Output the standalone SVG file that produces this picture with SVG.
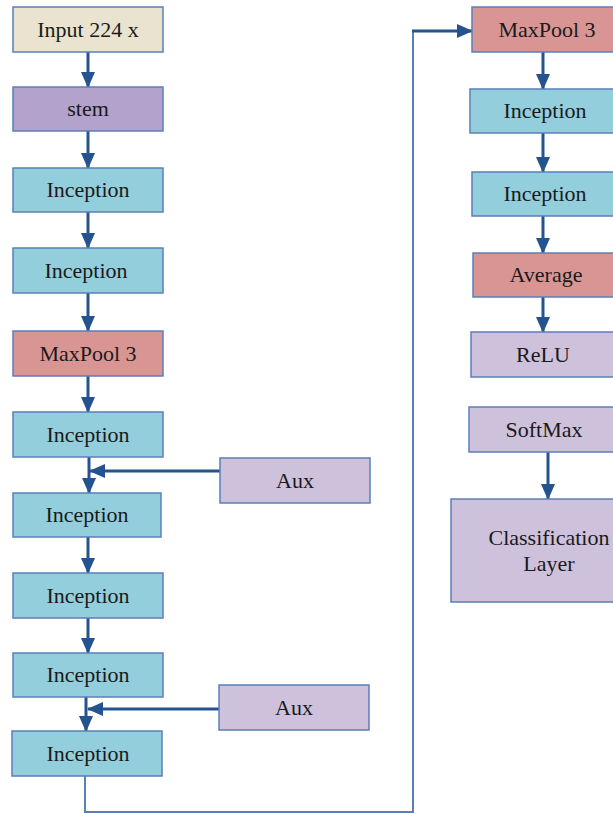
<svg xmlns="http://www.w3.org/2000/svg" width="613" height="814" viewBox="0 0 613 814">
<style>
.box{stroke:#5b7fb8;stroke-width:1.5}
.inp{fill:#e9e3cf}
.stem{fill:#b3a2cb}
.inc{fill:#93cedd}
.pool{fill:#d99594}
.lav{fill:#cdc1dc}
text{font-family:"Liberation Serif","Times New Roman",serif;font-size:22px;fill:#1a1a1a;text-anchor:middle}
.c{stroke:#24538f;stroke-width:3;fill:none}
.thin{stroke:#5b7fb8;stroke-width:2;fill:none}
</style>
<defs>
<marker id="ah" markerUnits="userSpaceOnUse" markerWidth="16" markerHeight="16" viewBox="0 0 16 16" refX="15" refY="8" orient="auto">
<path d="M0,1 L16,8 L0,15 Z" fill="#24538f"/>
</marker>
</defs>
<g id="connectors">
<line class="c" x1="88" y1="51" x2="88" y2="87" marker-end="url(#ah)"/>
<line class="c" x1="88" y1="131" x2="88" y2="168" marker-end="url(#ah)"/>
<line class="c" x1="88" y1="212" x2="88" y2="248" marker-end="url(#ah)"/>
<line class="c" x1="88" y1="293" x2="88" y2="331" marker-end="url(#ah)"/>
<line class="c" x1="88" y1="376" x2="88" y2="412" marker-end="url(#ah)"/>
<line class="c" x1="89" y1="457" x2="89" y2="493" marker-end="url(#ah)"/>
<line class="c" x1="220" y1="471" x2="90" y2="471" marker-end="url(#ah)"/>
<line class="c" x1="88" y1="537" x2="88" y2="573" marker-end="url(#ah)"/>
<line class="c" x1="88" y1="618" x2="88" y2="653" marker-end="url(#ah)"/>
<line class="c" x1="86" y1="697" x2="86" y2="731" marker-end="url(#ah)"/>
<line class="c" x1="219" y1="709" x2="88" y2="709" marker-end="url(#ah)"/>
<polyline class="thin" points="85,776 85,812 413,812 413,31"/>
<line class="c" x1="412" y1="31" x2="472" y2="31" marker-end="url(#ah)"/>
<line class="c" x1="543" y1="52" x2="543" y2="89" marker-end="url(#ah)"/>
<line class="c" x1="543" y1="133" x2="543" y2="172" marker-end="url(#ah)"/>
<line class="c" x1="543" y1="216" x2="543" y2="253" marker-end="url(#ah)"/>
<line class="c" x1="543" y1="297" x2="543" y2="332" marker-end="url(#ah)"/>
<line class="c" x1="548" y1="452" x2="548" y2="499" marker-end="url(#ah)"/>
</g>
<g id="input"><rect class="box inp" x="13" y="7" width="150" height="45"/><text x="88" y="37">Input 224 x</text></g>
<g id="stem"><rect class="box stem" x="13" y="87" width="150" height="44"/><text x="88" y="116">stem</text></g>
<g id="inception1"><rect class="box inc" x="13" y="168" width="150" height="44"/><text x="88" y="197">Inception</text></g>
<g id="inception2"><rect class="box inc" x="13" y="248" width="150" height="45"/><text x="86" y="278">Inception</text></g>
<g id="maxpool1"><rect class="box pool" x="13" y="331" width="150" height="45"/><text x="88" y="361">MaxPool 3</text></g>
<g id="inception3"><rect class="box inc" x="13" y="412" width="150" height="45"/><text x="88" y="442">Inception</text></g>
<g id="aux1"><rect class="box lav" x="220" y="458" width="150" height="45"/><text x="295" y="488">Aux</text></g>
<g id="inception4"><rect class="box inc" x="13" y="493" width="148" height="44"/><text x="87" y="522">Inception</text></g>
<g id="inception5"><rect class="box inc" x="13" y="573" width="150" height="45"/><text x="88" y="603">Inception</text></g>
<g id="inception6"><rect class="box inc" x="13" y="653" width="150" height="44"/><text x="88" y="682">Inception</text></g>
<g id="aux2"><rect class="box lav" x="219" y="685" width="150" height="45"/><text x="294" y="715">Aux</text></g>
<g id="inception7"><rect class="box inc" x="12" y="731" width="150" height="45"/><text x="88" y="761">Inception</text></g>
<g id="maxpool2"><rect class="box pool" x="472" y="7" width="150" height="45"/><text x="547" y="37">MaxPool 3</text></g>
<g id="inception8"><rect class="box inc" x="470" y="89" width="150" height="44"/><text x="545" y="118">Inception</text></g>
<g id="inception9"><rect class="box inc" x="472" y="172" width="150" height="44"/><text x="545" y="201">Inception</text></g>
<g id="average"><rect class="box pool" x="473" y="253" width="150" height="44"/><text x="546" y="282">Average</text></g>
<g id="relu"><rect class="box lav" x="471" y="332" width="150" height="45"/><text x="543" y="362">ReLU</text></g>
<g id="softmax"><rect class="box lav" x="469" y="407" width="150" height="45"/><text x="544" y="437">SoftMax</text></g>
<g id="classification"><rect class="box lav" x="451" y="499" width="170" height="103"/><text x="549" y="545">Classification</text><text x="549" y="571">Layer</text></g>
</svg>
